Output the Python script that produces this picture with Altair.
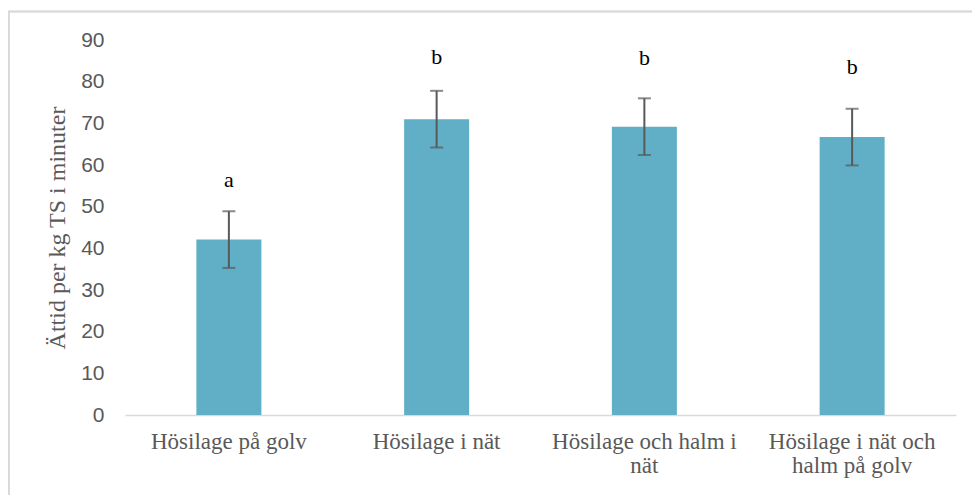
import altair as alt
import pandas as pd

# Feeding treatments (x categories)
categories = [
    "Hösilage på golv",
    "Hösilage i nät",
    "Hösilage och halm i nät",
    "Hösilage i nät och halm på golv",
]
# Two-line axis labels for the longer treatment names
label_lines = {
    "Hösilage och halm i nät": ["Hösilage och halm i", "nät"],
    "Hösilage i nät och halm på golv": ["Hösilage i nät och", "halm på golv"],
}
# Mean eating time per kg DM (minutes) and its error
means = [42.1, 71.0, 69.2, 66.7]
errors = [6.8, 6.8, 6.8, 6.8]
# Significance letters and the height they sit at
letters = ["a", "b", "b", "b"]
letter_y = [56.4, 86.0, 85.6, 83.6]

df = pd.DataFrame({
    "cat": categories,
    "mean": means,
    "lo": [m - e for m, e in zip(means, errors)],
    "hi": [m + e for m, e in zip(means, errors)],
    "letter": letters,
    "ly": letter_y,
})

W, H = 831, 375
PAD_L, PAD_T = 125, 40

label_expr = " : ".join(
    [f"datum.label == '{k}' ? {v!r}" for k, v in label_lines.items()] + ["datum.label"]
)

x = alt.X(
    "cat:N",
    sort=categories,
    scale=alt.Scale(paddingInner=0, paddingOuter=0),
    axis=alt.Axis(
        title=None,
        labelAngle=0,
        labelFont="Liberation Serif",
        labelFontSize=23,
        labelColor="#595959",
        labelLineHeight=24,
        labelPadding=15,
        labelBaseline="top",
        labelLimit=400,
        labelExpr=label_expr,
        ticks=False,
        domainColor="#d9d9d9",
        domainWidth=1.5,
    ),
)
y_scale = alt.Scale(domain=[0, 90], nice=False)

bars = alt.Chart(df).mark_bar(size=65, color="#60afc6").encode(
    x=x,
    y=alt.Y(
        "mean:Q",
        scale=y_scale,
        axis=alt.Axis(
            title="Ättid per kg TS i minuter",
            titleFont="Liberation Serif",
            titleFontSize=24,
            titleFontWeight="normal",
            titleColor="#595959",
            titlePadding=11,
            values=list(range(0, 91, 10)),
            labelFont="Liberation Sans",
            labelFontSize=21,
            labelColor="#595959",
            labelPadding=21,
            ticks=False,
            domain=False,
            grid=False,
        ),
    ),
)

whisker = alt.Chart(df).mark_rule(color="#595959", strokeWidth=2).encode(
    x=alt.X("cat:N", sort=categories),
    y=alt.Y("lo:Q", scale=y_scale),
    y2="hi:Q",
)
caps_lo = alt.Chart(df).mark_tick(color="#595959", thickness=2, size=13).encode(
    x=alt.X("cat:N", sort=categories),
    y=alt.Y("lo:Q", scale=y_scale),
)
caps_hi = alt.Chart(df).mark_tick(color="#595959", thickness=2, size=13).encode(
    x=alt.X("cat:N", sort=categories),
    y=alt.Y("hi:Q", scale=y_scale),
)
text = alt.Chart(df).mark_text(
    font="Liberation Serif", fontSize=22, color="#000000", baseline="middle"
).encode(
    x=alt.X("cat:N", sort=categories),
    y=alt.Y("ly:Q", scale=y_scale),
    text="letter:N",
)

# Light outer frame around the chart
frame = alt.Chart(df).mark_rect(
    fill=None, stroke="#d9d9d9", strokeWidth=1.5
).encode(
    x=alt.value(9 - PAD_L),
    x2=alt.value(990 - PAD_L),
    y=alt.value(11.5 - PAD_T),
    y2=alt.value(520 - PAD_T),
)

chart = alt.layer(frame, bars, whisker, caps_lo, caps_hi, text).properties(
    width=W,
    height=H,
    autosize=alt.AutoSizeParams(type="none"),
    padding={"left": PAD_L, "top": PAD_T, "right": 972 - PAD_L - W, "bottom": 495 - PAD_T - H},
    background="white",
).configure_view(stroke=None)

chart.save("out.html", embed_options={"renderer": "svg", "actions": False})
